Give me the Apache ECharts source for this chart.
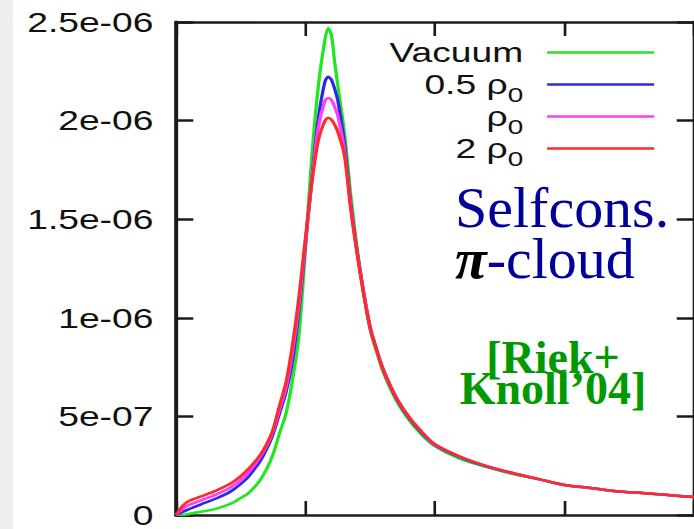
<!DOCTYPE html>
<html>
<head>
<meta charset="utf-8">
<script src="https://cdn.jsdelivr.net/npm/echarts@6/dist/echarts.min.js"></script>
<style>
  html, body {
    margin: 0; padding: 0; width: 694px; height: 529px; overflow: hidden;
    background: linear-gradient(to right, #efefef 0, #efefef 13px, #ffffff 13px);
  }
  /* the plot is drawn in a narrower box and stretched sideways to page width */
  #chart {
    position: absolute; left: 0; top: 0; width: 522px; height: 529px;
    transform: scaleX(1.3295); transform-origin: 0 0;
  }
</style>
</head>
<body>
<div id="chart"></div>
<script>
// horizontal stretch of the plot box: page px = chart px * STRETCH
const STRETCH = 694 / 522;
const toChart = (px) => px / STRETCH;

// invariant-mass grid (axis units, ticks every 1)
const mass = [0, 0.05, 0.1, 0.2, 0.3, 0.4, 0.45, 0.5, 0.55, 0.6, 0.65, 0.7, 0.75, 0.8, 0.85, 0.9, 0.95,
  1.0, 1.05, 1.1, 1.15, 1.175, 1.2, 1.225, 1.25, 1.3, 1.35, 1.4, 1.45, 1.5, 1.55,
  1.6, 1.7, 1.8, 1.9, 2.0, 2.2, 2.4, 2.6, 2.8, 3.0, 3.2, 3.4, 3.6, 3.8, 4.0];

// spectral function, vacuum
const vacuum = [0, 0, 5e-9, 1.8e-8, 3.0e-8, 5.1e-8, 6.6e-8, 8.6e-8, 1.06e-7, 1.37e-7, 1.77e-7,
  2.33e-7, 3.09e-7, 4.15e-7, 5.16e-7, 6.88e-7, 9.16e-7,
  1.356e-6, 1.827e-6, 2.181e-6, 2.409e-6, 2.47e-6, 2.434e-6, 2.298e-6, 2.176e-6, 1.943e-6,
  1.62e-6, 1.346e-6, 1.124e-6, 9.36e-7, 8.25e-7,
  7.24e-7, 5.82e-7, 4.81e-7, 4.05e-7, 3.49e-7, 2.83e-7, 2.43e-7, 2.08e-7, 1.82e-7, 1.52e-7,
  1.37e-7, 1.21e-7, 1.11e-7, 1.01e-7, 9.1e-8];

// half nuclear density
const halfRho = [0, 1.5e-8, 3.0e-8, 5.6e-8, 8.1e-8, 1.11e-7, 1.32e-7, 1.57e-7, 1.87e-7, 2.28e-7, 2.73e-7,
  3.34e-7, 4.10e-7, 5.16e-7, 6.23e-7, 7.84e-7, 1.043e-6,
  1.372e-6, 1.711e-6, 2.014e-6, 2.197e-6, 2.222e-6, 2.207e-6, 2.161e-6, 2.10e-6, 1.888e-6,
  1.574e-6, 1.331e-6, 1.124e-6, 9.46e-7, 8.38e-7,
  7.36e-7, 5.92e-7, 4.91e-7, 4.15e-7, 3.54e-7, 2.91e-7, 2.46e-7, 2.12e-7, 1.82e-7, 1.52e-7,
  1.37e-7, 1.21e-7, 1.11e-7, 1.01e-7, 9.1e-8];

// nuclear density
const oneRho = [0, 3.0e-8, 5.1e-8, 7.6e-8, 1.01e-7, 1.32e-7, 1.52e-7, 1.77e-7, 2.08e-7, 2.48e-7, 2.94e-7,
  3.49e-7, 4.25e-7, 5.36e-7, 6.48e-7, 8.30e-7, 1.073e-6,
  1.387e-6, 1.70e-6, 1.969e-6, 2.10e-6, 2.115e-6, 2.105e-6, 2.07e-6, 2.024e-6, 1.852e-6,
  1.559e-6, 1.326e-6, 1.124e-6, 9.51e-7, 8.35e-7,
  7.39e-7, 5.97e-7, 4.96e-7, 4.2e-7, 3.56e-7, 2.94e-7, 2.48e-7, 2.13e-7, 1.82e-7, 1.52e-7,
  1.37e-7, 1.21e-7, 1.11e-7, 1.01e-7, 9.1e-8];

// twice nuclear density
const twoRho = [0, 4.6e-8, 7.1e-8, 9.6e-8, 1.21e-7, 1.52e-7, 1.72e-7, 1.97e-7, 2.28e-7, 2.63e-7, 3.04e-7,
  3.59e-7, 4.35e-7, 5.57e-7, 6.73e-7, 8.65e-7, 1.108e-6,
  1.407e-6, 1.69e-6, 1.903e-6, 1.999e-6, 2.014e-6, 2.004e-6, 1.979e-6, 1.943e-6, 1.827e-6,
  1.549e-6, 1.321e-6, 1.118e-6, 9.51e-7, 8.35e-7,
  7.39e-7, 5.97e-7, 4.96e-7, 4.2e-7, 3.59e-7, 2.94e-7, 2.48e-7, 2.13e-7, 1.82e-7, 1.52e-7,
  1.37e-7, 1.21e-7, 1.11e-7, 1.01e-7, 9.1e-8];

const seriesNames = ['Vacuum', '0.5 ρ0', 'ρ0', '2 ρ0'];
const seriesColors = ['#22e622', '#2a2ae6', '#ff3cff', '#ff2a2a'];
const seriesValues = [vacuum, halfRho, oneRho, twoRho];

const yTickLabels = ['0', '5e-07', '1e-06', '1.5e-06', '2e-06', '2.5e-06'];
const Y_STEP = 5e-7;

const AXIS_COLOR = '#1a1a1a';
const SANS = 'Liberation Sans';
const SERIF = 'Liberation Serif';

const chart = echarts.init(document.getElementById('chart'), null, { renderer: 'svg' });

const plotLeft = toChart(176);
const plotWidth = toChart(524);

const option = {
  animation: false,
  backgroundColor: 'transparent',
  grid: { left: plotLeft, top: 22, width: plotWidth, height: 494, containLabel: false },
  xAxis: [
    {
      type: 'value', position: 'bottom', min: 0, max: 4, interval: 1,
      axisLine: { show: true, onZero: false, lineStyle: { color: AXIS_COLOR, width: 2.5 } },
      axisTick: { show: true, inside: true, length: 14, lineStyle: { color: AXIS_COLOR, width: 2 } },
      axisLabel: { show: false },
      splitLine: { show: false }
    },
    {
      type: 'value', position: 'top', min: 0, max: 4, interval: 1,
      axisLine: { show: true, onZero: false, lineStyle: { color: AXIS_COLOR, width: 2.5 } },
      axisTick: { show: true, inside: true, length: 14, lineStyle: { color: AXIS_COLOR, width: 2 } },
      axisLabel: { show: false },
      splitLine: { show: false }
    }
  ],
  yAxis: [
    {
      type: 'value', position: 'left', min: 0, max: 2.5e-6, interval: Y_STEP,
      axisLine: { show: true, onZero: false, lineStyle: { color: AXIS_COLOR, width: 3 } },
      axisTick: { show: true, inside: true, length: 13, lineStyle: { color: AXIS_COLOR, width: 2.5 } },
      axisLabel: {
        show: true, margin: 17, fontFamily: SANS, fontSize: 28, lineHeight: 22, color: '#111',
        formatter: (v) => yTickLabels[Math.round(v / Y_STEP)]
      },
      splitLine: { show: false }
    },
    {
      type: 'value', position: 'right', min: 0, max: 2.5e-6, interval: Y_STEP,
      axisLine: { show: true, onZero: false, lineStyle: { color: AXIS_COLOR, width: 3 } },
      axisTick: { show: true, inside: true, length: 13, lineStyle: { color: AXIS_COLOR, width: 2.5 } },
      axisLabel: { show: false },
      splitLine: { show: false }
    }
  ],
  legend: {
    orient: 'vertical', align: 'right', right: 30, top: 32, padding: 0,
    itemGap: -9, itemWidth: 80.5, itemHeight: 2.5,
    icon: 'rect',
    selectedMode: false,
    data: seriesNames,
    formatter: (name) => name.replace('ρ0', 'ρ{s|0}'),
    textStyle: {
      fontFamily: SANS, fontSize: 28, color: '#111', lineHeight: 41, padding: [0, 13, 0, 0],
      rich: { s: { fontFamily: SANS, fontSize: 21, lineHeight: 21, padding: [20, 0, 0, 0], color: '#111' } }
    }
  },
  series: seriesNames.map((name, k) => ({
    name: name,
    type: 'line',
    xAxisIndex: 0,
    yAxisIndex: 0,
    data: mass.map((m, i) => [m, seriesValues[k][i]]),
    symbol: 'none',
    showSymbol: false,
    smooth: 0.3,
    color: seriesColors[k],
    itemStyle: { color: seriesColors[k] },
    lineStyle: { color: seriesColors[k], width: 2.5 },
    z: 2 + k
  })),
  graphic: [
    {
      type: 'text', x: toChart(455), y: 207, scaleX: 1 / STRETCH, z: 10,
      style: { text: 'Selfcons.', fontFamily: SERIF, fontSize: 58, fill: '#000099',
               align: 'left', verticalAlign: 'middle' }
    },
    {
      type: 'text', x: toChart(455), y: 258, scaleX: 1 / STRETCH, z: 10,
      style: {
        text: '{pi|π}{c|-cloud}', fontFamily: SERIF, fontSize: 58,
        align: 'left', verticalAlign: 'middle',
        rich: {
          pi: { fontFamily: SERIF, fontSize: 58, fontStyle: 'italic', fontWeight: 'bold', fill: '#000000' },
          c: { fontFamily: SERIF, fontSize: 58, fill: '#000099' }
        }
      }
    },
    {
      type: 'text', x: toChart(553), y: 373, scaleX: 1 / STRETCH, z: 10,
      style: { text: '[Riek+\nKnoll’04]', fontFamily: SERIF, fontSize: 46, fontWeight: 'bold',
               lineHeight: 31, fill: '#009900', align: 'center', verticalAlign: 'middle' }
    }
  ]
};

chart.setOption(option);
</script>
</body>
</html>
